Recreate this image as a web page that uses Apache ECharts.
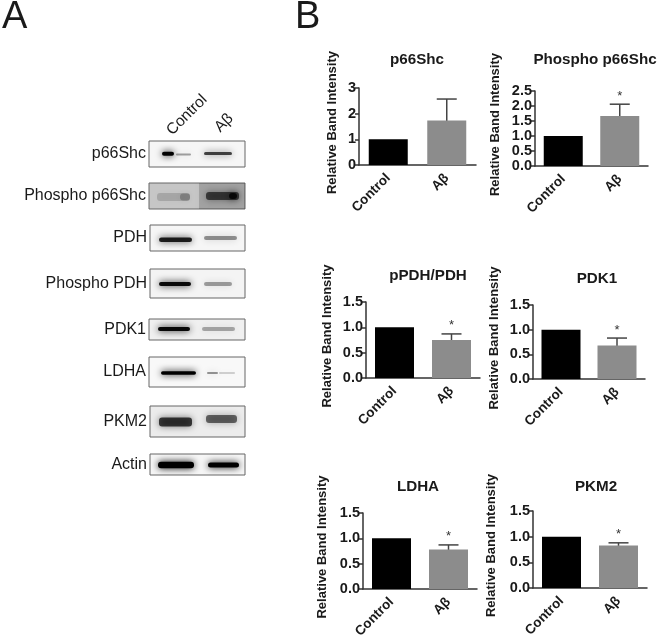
<!DOCTYPE html>
<html>
<head>
<meta charset="utf-8">
<style>
  html, body { margin: 0; padding: 0; background: #fff; }
  #chart { width: 660px; height: 636px; }
</style>
<script src="https://cdn.jsdelivr.net/npm/echarts@6/dist/echarts.min.js"></script>
</head>
<body>
<div id="chart"></div>
<script>
// values
const categories = ["Control", "Aβ"];
const panelTitles = ["p66Shc", "Phospho p66Shc", "pPDH/PDH", "PDK1", "LDHA", "PKM2"];
const controlValues = [1, 1, 1, 1, 1, 1];
const abetaValues = [1.73, 1.67, 0.75, 0.68, 0.78, 0.83];
const abetaErrorTops = [2.57, 2.06, 0.87, 0.83, 0.87, 0.88];
const significant = [false, true, true, true, true, true];
const tickMax = [3, 2.5, 1.5, 1.5, 1.5, 1.5];
const tickStep = [1, 0.5, 0.5, 0.5, 0.5, 0.5];

// blots: [start, end, centre, thickness, density] along each membrane
const blotNames = ["p66Shc", "Phospho p66Shc", "PDH", "Phospho PDH", "PDK1", "LDHA", "PKM2", "Actin"];
const p66ShcBands = [[13, 25, 12.7, 4, 1], [27, 42, 13.5, 2, 0.35], [55, 83, 12.5, 3, 0.7]];
const phosphoP66Bands = [[50, 100, 13, 40, 0.16], [8, 41, 14, 8, 0.15], [31, 41, 14, 7, 0.22], [57, 90, 13, 8, 0.6], [80, 88, 13, 6, 0.8]];
const pdhBands = [[9, 42, 14.7, 4.5, 0.85], [54, 87, 13, 4, 0.4]];
const phosphoPdhBands = [[9, 41, 15, 4, 0.95], [54, 82, 15, 4, 0.35]];
const pdk1Bands = [[9, 41, 10, 4, 0.95], [53, 86, 10, 4, 0.3]];
const ldhaBands = [[12, 47, 16, 3.5, 1], [58, 69, 16, 2, 0.4], [70, 86, 16, 1.5, 0.22]];
const pkm2Bands = [[9, 42, 16, 9, 0.72], [56, 87, 13, 8, 0.55]];
const actinBands = [[8, 44, 11, 6.5, 1], [58, 89, 11, 5, 1]];
const blotBands = [p66ShcBands, phosphoP66Bands, pdhBands, phosphoPdhBands, pdk1Bands, ldhaBands, pkm2Bands, actinBands];

// layout
const font = "Liberation Sans";
const panelBoxes = [
  { left: 359, top: 88, width: 117, height: 77, gap: 20, tx: 412, ty: 55 },
  { left: 535, top: 91, width: 113, height: 75, gap: 33, tx: 590, ty: 55 },
  { left: 366, top: 302, width: 114, height: 76, gap: 32, tx: 423, ty: 271 },
  { left: 533, top: 305, width: 112, height: 74, gap: 32, tx: 592, ty: 274 },
  { left: 363, top: 513, width: 114, height: 76, gap: 34, tx: 413, ty: 482 },
  { left: 533, top: 511, width: 114, height: 77, gap: 35, tx: 591, ty: 482 }
];
const blotBoxes = [
  { left: 149, top: 141, width: 96, height: 26, bg: "#f6f6f6" },
  { left: 149, top: 183, width: 96, height: 26, bg: "#c6c6c6" },
  { left: 150, top: 225, width: 95, height: 26, bg: "#f6f6f6" },
  { left: 150, top: 269, width: 95, height: 29, bg: "#f4f4f4" },
  { left: 149, top: 319, width: 96, height: 21, bg: "#f0f0f0" },
  { left: 149, top: 357, width: 96, height: 30, bg: "#f8f8f8" },
  { left: 150, top: 406, width: 95, height: 31, bg: "#ececec" },
  { left: 150, top: 454, width: 95, height: 21, bg: "#f6f6f6" }
];

const grids = [], xAxes = [], yAxes = [], series = [], titles = [];

panelTitles.forEach((name, i) => {
  const box = panelBoxes[i];
  const decimals = tickStep[i] < 1 ? 1 : 0;
  grids.push({ left: box.left, top: box.top, width: box.width, height: box.height, outerBoundsMode: "none" });
  titles.push({
    text: name,
    left: box.tx,
    top: box.ty,
    textAlign: "center",
    textVerticalAlign: "middle",
    textStyle: { fontFamily: font, fontSize: 15.2, fontWeight: "bold", color: "#1a1a1a" }
  });
  xAxes.push({
    gridIndex: i,
    type: "category",
    data: categories,
    axisLine: { lineStyle: { color: "#333", width: 1.5 } },
    axisTick: { alignWithLabel: true, length: 4, lineStyle: { color: "#333", width: 1.5 } },
    axisLabel: {
      interval: 0,
      rotate: 45,
      margin: 11,
      fontFamily: font,
      fontSize: 13.5,
      fontWeight: "bold",
      color: "#1a1a1a"
    }
  });
  yAxes.push({
    gridIndex: i,
    type: "value",
    min: 0,
    max: tickMax[i],
    interval: tickStep[i],
    splitLine: { show: false },
    name: "Relative Band Intensity",
    nameLocation: "middle",
    nameGap: box.gap,
    nameMoveOverlap: false,
    nameTextStyle: { fontFamily: font, fontSize: 13, fontWeight: "bold", color: "#1a1a1a", padding: [0, 0, 0, 8] },
    axisLine: { show: true, lineStyle: { color: "#333", width: 1.5 } },
    axisTick: { show: true, length: 4, lineStyle: { color: "#333", width: 1.5 } },
    axisLabel: {
      margin: 3,
      fontFamily: font,
      fontSize: 14.5,
      fontWeight: "bold",
      color: "#1a1a1a",
      formatter: v => v.toFixed(decimals)
    }
  });
  series.push({
    type: "bar",
    xAxisIndex: i,
    yAxisIndex: i,
    barWidth: 39,
    silent: true,
    data: [
      { value: controlValues[i], itemStyle: { color: "#000" } },
      { value: abetaValues[i], itemStyle: { color: "#8c8c8c" } }
    ]
  });
  // error bar and asterisk on the Aβ bar
  series.push({
    type: "custom",
    xAxisIndex: i,
    yAxisIndex: i,
    silent: true,
    clip: false,
    data: [[1, abetaValues[i], abetaErrorTops[i]]],
    renderItem: (params, api) => {
      const low = api.coord([api.value(0), api.value(1)]);
      const high = api.coord([api.value(0), api.value(2)]);
      const line = { stroke: "#444", lineWidth: 1.5 };
      const kids = [
        { type: "line", shape: { x1: low[0], y1: low[1] + 3, x2: high[0], y2: high[1] }, style: line },
        { type: "line", shape: { x1: high[0] - 10, y1: high[1], x2: high[0] + 10, y2: high[1] }, style: line }
      ];
      if (significant[i]) {
        kids.push({
          type: "text",
          style: {
            text: "*",
            x: high[0],
            y: high[1] - 8,
            align: "center",
            verticalAlign: "middle",
            fontFamily: font,
            fontSize: 13,
            fill: "#333"
          }
        });
      }
      return { type: "group", children: kids };
    }
  });
});

blotNames.forEach((name, b) => {
  const box = blotBoxes[b];
  const g = panelTitles.length + b;
  grids.push({
    left: box.left,
    top: box.top,
    width: box.width,
    height: box.height,
    outerBoundsMode: "none",
    show: true,
    backgroundColor: box.bg,
    borderColor: "#666",
    borderWidth: 1
  });
  xAxes.push({ gridIndex: g, type: "value", min: 0, max: box.width, show: false });
  yAxes.push({
    gridIndex: g,
    type: "value",
    inverse: true,
    min: 0,
    max: box.height,
    splitLine: { show: false },
    axisLine: { show: false },
    axisTick: { show: false },
    axisLabel: { show: false },
    name: name,
    nameLocation: "middle",
    nameRotate: 0,
    nameGap: 3,
    nameMoveOverlap: false,
    nameTextStyle: { fontFamily: font, fontSize: 16, color: "#1a1a1a", align: "right", verticalAlign: "middle" }
  });
  series.push({
    type: "custom",
    xAxisIndex: g,
    yAxisIndex: g,
    silent: true,
    clip: true,
    data: blotBands[b],
    renderItem: (params, api) => {
      const a = api.coord([api.value(0), api.value(2)]);
      const z = api.coord([api.value(1), api.value(2)]);
      const thick = api.size([0, api.value(3)])[1];
      const ink = "rgba(0,0,0," + api.value(4) + ")";
      return {
        type: "rect",
        shape: { x: a[0], y: a[1] - thick / 2, width: z[0] - a[0], height: thick, r: Math.min(thick / 2, 3) },
        style: { fill: ink, shadowColor: ink, shadowBlur: 7 }
      };
    }
  });
});

const panelLetter = (text, x, y) => ({
  type: "text",
  style: { text: text, x: x, y: y, fontFamily: font, fontSize: 38, fill: "#1a1a1a", align: "left", verticalAlign: "middle" }
});
const laneLabel = (text, x, y) => ({
  type: "text",
  x: x,
  y: y,
  rotation: Math.PI / 4,
  style: { text: text, fontFamily: font, fontSize: 15.5, fill: "#1a1a1a", align: "center", verticalAlign: "middle" }
});

const myChart = echarts.init(document.getElementById("chart"));
myChart.setOption({
  animation: false,
  backgroundColor: "#fff",
  title: titles,
  grid: grids,
  xAxis: xAxes,
  yAxis: yAxes,
  series: series,
  graphic: [
    panelLetter("A", 2, 18),
    panelLetter("B", 295, 18),
    laneLabel("Control", 187, 115),
    laneLabel("Aβ", 224, 123)
  ]
});
</script>
</body>
</html>
